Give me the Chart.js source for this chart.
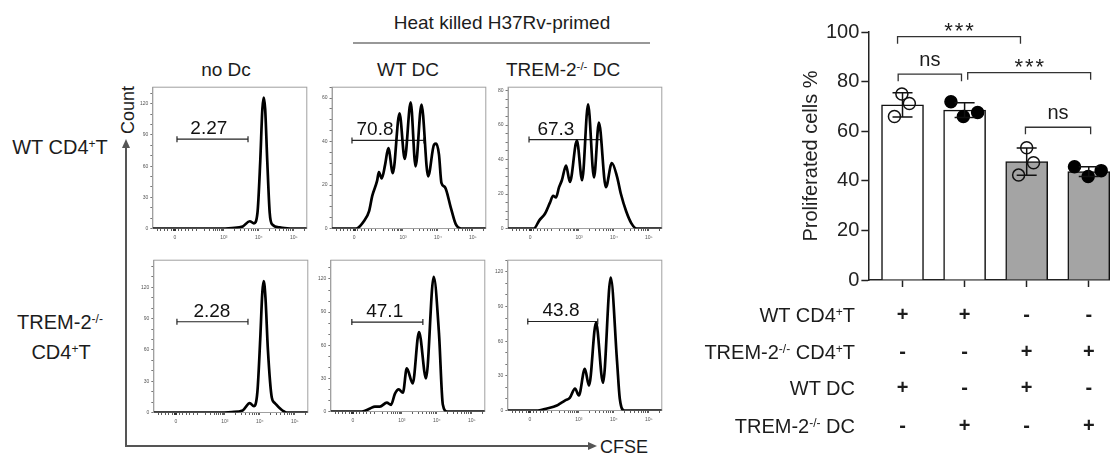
<!DOCTYPE html>
<html>
<head>
<meta charset="utf-8">
<title>CFSE proliferation</title>
<script src="https://cdn.jsdelivr.net/npm/chart.js@4.4.1/dist/chart.umd.min.js"></script>
<style>
  body { margin:0; width:1110px; height:459px; overflow:hidden; background:#fff; position:relative;
         font-family:"Liberation Sans", Arial, sans-serif; color:#1c1c1c; }
  .wrap { position:absolute; left:0; top:0; }
  .t { position:absolute; white-space:nowrap; line-height:1; }
  .c { transform:translate(-50%,-50%); }
  .r { transform:translateY(-50%); }
  sup { font-size:0.6em; position:relative; top:-0.5em; vertical-align:baseline; line-height:0; }
  svg { position:absolute; left:0; top:0; }
</style>
</head>
<body>
<svg width="1110" height="459">
  <path d="M126 446 V147" stroke="#555" stroke-width="2" fill="none"/>
  <path d="M126 139 l-4 9 h8 z" fill="#555"/>
  <path d="M125 446 H589" stroke="#555" stroke-width="2" fill="none"/>
  <path d="M597 446 l-9 -4 v8 z" fill="#555"/>
  <line x1="353" y1="43" x2="650" y2="43" stroke="#333" stroke-width="1.2"/>
</svg>

<div class="t c" style="left:502px;top:22px;font-size:19px">Heat killed H37Rv-primed</div>
<div class="t c" style="left:226px;top:69px;font-size:19px">no Dc</div>
<div class="t c" style="left:408px;top:69px;font-size:19px">WT DC</div>
<div class="t c" style="left:563px;top:69px;font-size:19px">TREM-2<sup>-/-</sup> DC</div>
<div class="t c" style="left:128px;top:110px;font-size:18px;transform:translate(-50%,-50%) rotate(-90deg)">Count</div>
<div class="t" style="left:600px;top:438px;font-size:18px">CFSE</div>
<div class="t c" style="left:60px;top:147px;font-size:20px">WT CD4<sup>+</sup>T</div>
<div class="t c" style="left:60px;top:322px;font-size:20px">TREM-2<sup>-/-</sup></div>
<div class="t c" style="left:61px;top:352px;font-size:20px">CD4<sup>+</sup>T</div>

<div class="wrap"><canvas id="h1" width="200" height="180"></canvas></div>
<div class="wrap"><canvas id="h2" width="200" height="180"></canvas></div>
<div class="wrap"><canvas id="h3" width="200" height="180"></canvas></div>
<div class="wrap"><canvas id="h4" width="200" height="180"></canvas></div>
<div class="wrap"><canvas id="h5" width="200" height="180"></canvas></div>
<div class="wrap"><canvas id="h6" width="200" height="180"></canvas></div>
<div class="wrap"><canvas id="bars" width="320" height="460"></canvas></div>

<div class="t r" style="right:255px;top:315px;font-size:20px">WT CD4<sup>+</sup>T</div>
<div class="t r" style="right:255px;top:352px;font-size:20px">TREM-2<sup>-/-</sup> CD4<sup>+</sup>T</div>
<div class="t r" style="right:255px;top:388px;font-size:20px">WT DC</div>
<div class="t r" style="right:255px;top:426px;font-size:20px">TREM-2<sup>-/-</sup> DC</div>

<script>
// ---- CFSE axis (logicle display units: 0 at "0", one unit per decade above 10^3)
const cfseMajorTicks = [0, 1.4, 2.4, 3.4];
const cfseMajorLabels = ['0', '10³', '10⁴', '10⁵'];
const cfseMinorTicks = [-0.5, -0.4, -0.3, -0.2, -0.1, 0.1, 0.2, 0.3, 0.4, 0.5, 0.62, 0.85, 0.99, 1.09, 1.16,
  1.23, 1.28, 1.32, 1.36, 1.7, 1.88, 2.0, 2.1, 2.18, 2.25, 2.3, 2.35, 2.7, 2.88, 3.0, 3.1, 3.18, 3.25, 3.3, 3.35, 3.7];

// ---- histograms (CFSE position, cell count)
const cfseWtNoDc  = [-0.63, 0, 1.2, 1.63, 1.94, 2.14, 2.26, 2.36, 2.44, 2.5, 2.54, 2.58, 2.64, 2.71, 2.78, 3.0, 3.3, 3.77];
const countWtNoDc = [0, 0, 0, 0.5, 2, 7, 5, 15, 65, 115, 126, 115, 65, 15, 4, 1, 0, 0];

const cfseWtWtDc  = [-0.63, 0.06, 0.29, 0.43, 0.52, 0.66, 0.71, 0.79, 0.89, 0.98, 1.11, 1.3, 1.45, 1.62, 1.76, 1.93, 2.12, 2.29, 2.35, 2.43, 2.5, 2.6, 2.77, 2.91, 3.06, 3.77];
const countWtWtDc = [0, 0, 3.6, 8, 15, 22, 26, 23, 29.5, 37, 25.5, 53, 32, 58, 28.6, 57, 24, 38.6, 39, 34, 21, 19, 9.5, 2, 0, 0];

const cfseWtKoDc  = [-0.63, 0.11, 0.26, 0.43, 0.57, 0.66, 0.74, 0.83, 0.91, 1.03, 1.14, 1.34, 1.49, 1.66, 1.83, 1.97, 2.17, 2.34, 2.49, 2.6, 2.75, 2.9, 3.05, 3.77];
const countWtKoDc = [0, 0, 4.6, 8.7, 15, 19, 18, 24, 28, 36.5, 27, 51, 28, 72, 29.6, 61.5, 24, 38, 30, 20, 10, 3, 0, 0];

const cfseKoNoDc  = [-0.63, 0, 1.2, 1.6, 1.91, 2.11, 2.23, 2.33, 2.41, 2.47, 2.51, 2.56, 2.63, 2.74, 2.83, 2.97, 3.17, 3.77];
const countKoNoDc = [0, 0, 0, 0.5, 2, 9, 6, 20, 70, 115, 126, 110, 60, 14.5, 9, 4, 0, 0];

const cfseKoWtDc  = [-0.63, 0.26, 0.49, 0.63, 0.77, 0.97, 1.09, 1.2, 1.31, 1.43, 1.54, 1.71, 1.89, 2.09, 2.31, 2.46, 2.57, 2.69, 3.77];
const countKoWtDc = [0, 0, 2.7, 4.5, 4.5, 8, 6, 16, 20, 17, 39, 25.5, 72, 30, 122, 71, 6.4, 0, 0];

const cfseKoKoDc  = [-0.63, 0.23, 0.49, 0.77, 0.86, 1.0, 1.14, 1.29, 1.4, 1.57, 1.69, 1.89, 2.09, 2.31, 2.49, 2.57, 2.7, 3.77];
const countKoKoDc = [0, 0, 1.7, 4.3, 6, 8.6, 11, 19, 13, 36, 21.6, 76, 24, 115, 43, 10, 0, 0];

// gates: [from, to, count level, label position, % divided]
const gateWtNoDc = [0.06, 2.09, 86, 0.97, '2.27'];
const gateWtWtDc = [-0.06, 2.0, 40.5, 0.6, '70.8'];
const gateWtKoDc = [-0.03, 2.03, 51.6, 0.74, '67.3'];
const gateKoNoDc = [0.03, 2.06, 87, 1.03, '2.28'];
const gateKoWtDc = [-0.03, 2.0, 81, 0.91, '47.1'];
const gateKoKoDc = [-0.06, 1.94, 77, 0.89, '43.8'];

// ---- bar chart
const groups = [1, 2, 3, 4];
const meanProlif = [70.6, 68.5, 47.7, 43.7];
const sdProlif = [4.9, 3.0, 5.5, 2.0];
const repX1 = [0.87, 0.99, 1.11], repY1 = [65.9, 75.0, 71.2];
const repX2 = [1.78, 1.98, 2.21], repY2 = [71.9, 65.9, 67.5];
const repX3 = [2.87, 3.0, 3.11], repY3 = [42.3, 53.3, 47.3];
const repX4 = [3.77, 3.99, 4.2], repY4 = [45.7, 41.7, 44.1];
// [from, to, level, text]
const sigBrackets = [[0.92, 2.9, 98.1, '***'], [0.93, 1.95, 83, 'ns'], [2.05, 4.03, 83.6, '***'], [2.98, 4.03, 61.6, 'ns']];
const tableSigns = [['+', '+', '-', '-'], ['-', '-', '+', '+'], ['+', '-', '+', '-'], ['-', '+', '-', '+']];

Chart.defaults.font.family = '"Liberation Sans", Arial, sans-serif';
Chart.defaults.color = '#222';

function fitChart(chart, box) {
  const a = chart.chartArea;
  const ml = a.left, mt = a.top, mr = chart.width - a.right, mb = chart.height - a.bottom;
  const w = Math.round(box.w + ml + mr), h = Math.round(box.h + mt + mb);
  const wrap = chart.canvas.parentNode;
  wrap.style.left = (box.x - ml) + 'px';
  wrap.style.top = (box.y - mt) + 'px';
  chart.resize(w, h);
  chart.update();
}

const panelDecor = {
  id: 'panelDecor',
  beforeDatasetsDraw(chart) {
    const a = chart.chartArea, ctx = chart.ctx;
    ctx.save();
    ctx.strokeStyle = '#a0a0a0';
    ctx.lineWidth = 1;
    ctx.strokeRect(a.left, a.top, a.right - a.left, a.bottom - a.top);
    ctx.restore();
  },
  afterDatasetsDraw(chart, args, opts) {
    const g = opts.gate;
    const ctx = chart.ctx;
    ctx.save();
    ctx.font = '19px "Liberation Sans", Arial, sans-serif';
    ctx.fillStyle = '#111';
    ctx.textAlign = 'center';
    ctx.fillText(g[4], chart.scales.x.getPixelForValue(g[3]), chart.scales.y.getPixelForValue(g[2]) - 5);
    ctx.restore();
  }
};

function histChart(id, cfse, count, gate, yMax, yStep, yEvery) {
  return new Chart(document.getElementById(id), {
    type: 'line',
    data: {
      datasets: [{
        data: cfse.map((u, i) => ({ x: u, y: count[i] })),
        borderColor: '#000', borderWidth: 2.7, pointRadius: 0,
        cubicInterpolationMode: 'monotone', fill: false
      }, {
        data: [{ x: gate[0], y: gate[2] }, { x: gate[1], y: gate[2] }],
        borderColor: '#222', borderWidth: 1.2,
        pointStyle: 'line', pointRotation: 90, pointRadius: 3, pointBorderWidth: 1.2, pointBorderColor: '#222'
      }]
    },
    options: {
      responsive: false, maintainAspectRatio: false, animation: false,
      layout: { padding: { top: 4, right: 3, left: 1, bottom: 1 } },
      plugins: { legend: { display: false }, tooltip: { enabled: false }, panelDecor: { gate } },
      scales: {
        x: {
          type: 'linear', min: -0.63, max: 3.77,
          afterBuildTicks: s => { s.ticks = cfseMajorTicks.concat(cfseMinorTicks).sort((a, b) => a - b).map(v => ({ value: v })); },
          ticks: {
            autoSkip: false, maxRotation: 0, font: { size: 5 }, color: '#555', padding: 4,
            callback: v => { const k = cfseMajorTicks.indexOf(v); return k < 0 ? '' : cfseMajorLabels[k]; }
          },
          grid: { drawOnChartArea: false, tickLength: 2.5, tickColor: '#333',
                  tickWidth: c => (c.tick && c.tick.value === 0 ? 3 : 0.8) },
          border: { color: '#555', width: 1 }
        },
        y: {
          min: 0, max: yMax,
          ticks: { stepSize: yStep, includeBounds: false, autoSkip: false, font: { size: 5 }, color: '#555', padding: 2,
                   callback: v => (v % yEvery === 0 ? v : '') },
          grid: { drawOnChartArea: false, tickLength: 2.5, tickColor: '#777' },
          border: { color: '#a0a0a0', width: 1 }
        }
      }
    },
    plugins: [panelDecor]
  });
}

const histPanels = [
  [histChart('h1', cfseWtNoDc, countWtNoDc, gateWtNoDc, 136, 10, 30), { x: 153, y: 87, w: 154, h: 141 }],
  [histChart('h2', cfseWtWtDc, countWtWtDc, gateWtWtDc, 65, 5, 20),   { x: 332, y: 87, w: 154, h: 141 }],
  [histChart('h3', cfseWtKoDc, countWtKoDc, gateWtKoDc, 82, 5, 20),   { x: 508, y: 87, w: 154, h: 141 }],
  [histChart('h4', cfseKoNoDc, countKoNoDc, gateKoNoDc, 146, 10, 30), { x: 154, y: 260, w: 154, h: 152 }],
  [histChart('h5', cfseKoWtDc, countKoWtDc, gateKoWtDc, 137, 10, 30), { x: 331, y: 260, w: 154, h: 151 }],
  [histChart('h6', cfseKoKoDc, countKoKoDc, gateKoKoDc, 130, 10, 30), { x: 508, y: 260, w: 154, h: 150 }]
];
histPanels.forEach(p => fitChart(p[0], p[1]));

const barDecor = {
  id: 'barDecor',
  afterDatasetsDraw(chart) {
    const xs = chart.scales.x, ys = chart.scales.y, ctx = chart.ctx;
    ctx.save();
    ctx.strokeStyle = '#111';
    ctx.lineWidth = 1.5;
    groups.forEach((g, i) => {
      const x = xs.getPixelForValue(g);
      const y1 = ys.getPixelForValue(meanProlif[i] + sdProlif[i]);
      const y2 = ys.getPixelForValue(meanProlif[i] - sdProlif[i]);
      ctx.beginPath();
      ctx.moveTo(x, y1); ctx.lineTo(x, y2);
      ctx.moveTo(x - 10, y1); ctx.lineTo(x + 10, y1);
      ctx.moveTo(x - 10, y2); ctx.lineTo(x + 10, y2);
      ctx.stroke();
    });
    ctx.restore();
  },
  afterDraw(chart, args, opts) {
    const xs = chart.scales.x, ys = chart.scales.y, ctx = chart.ctx, a = chart.chartArea;
    ctx.save();
    ctx.strokeStyle = '#333';
    ctx.lineWidth = 1.3;
    ctx.fillStyle = '#1c1c1c';
    ctx.textAlign = 'center';
    sigBrackets.forEach(b => {
      const x1 = xs.getPixelForValue(b[0]), x2 = xs.getPixelForValue(b[1]), y = ys.getPixelForValue(b[2]);
      ctx.beginPath();
      ctx.moveTo(x1, y + 7); ctx.lineTo(x1, y); ctx.lineTo(x2, y); ctx.lineTo(x2, y + 7);
      ctx.stroke();
      const cx = (x1 + x2) / 2;
      if (b[3] === '***') {
        ctx.font = '22px "Liberation Sans", Arial, sans-serif';
        [-10.5, 0, 10.5].forEach(d => ctx.fillText('*', cx + d, y + 1));
      } else {
        ctx.font = '20px "Liberation Sans", Arial, sans-serif';
        ctx.fillText(b[3], cx, y - 8);
      }
    });
    ctx.font = 'bold 20px "Liberation Sans", Arial, sans-serif';
    ctx.textBaseline = 'middle';
    tableSigns.forEach((row, r) => {
      row.forEach((s, i) => ctx.fillText(s, xs.getPixelForValue(groups[i]), a.bottom + opts.rows[r]));
    });
    ctx.restore();
  }
};

const pts = (xs, ys) => xs.map((x, i) => ({ x, y: ys[i] }));

const barChart = new Chart(document.getElementById('bars'), {
  type: 'bar',
  data: {
    datasets: [{
      type: 'bar',
      data: groups.map((g, i) => ({ x: g, y: meanProlif[i] })),
      backgroundColor: c => (c.dataIndex < 2 ? '#ffffff' : '#a4a4a4'),
      borderColor: '#111', borderWidth: 1.5, barThickness: 42, order: 3
    }, {
      type: 'scatter',
      data: pts(repX1, repY1).concat(pts(repX3, repY3)),
      pointRadius: 6, pointBorderWidth: 1.5, pointBorderColor: '#111', pointBackgroundColor: 'rgba(0,0,0,0)',
      order: 1, clip: false
    }, {
      type: 'scatter',
      data: pts(repX2, repY2).concat(pts(repX4, repY4)),
      pointRadius: 6, pointBorderWidth: 1.5, pointBorderColor: '#000', pointBackgroundColor: '#000',
      order: 1, clip: false
    }]
  },
  options: {
    responsive: false, maintainAspectRatio: false, animation: false,
    layout: { padding: { top: 30, bottom: 175, left: 0, right: 0 } },
    plugins: { legend: { display: false }, tooltip: { enabled: false }, barDecor: { rows: [35, 72, 108, 146] } },
    scales: {
      x: {
        type: 'linear', min: 0.45, max: 4.35, offset: false,
        afterBuildTicks: s => { s.ticks = groups.map(v => ({ value: v })); },
        ticks: { display: false },
        grid: { offset: false, drawOnChartArea: false, tickLength: 7, tickWidth: 1.5, tickColor: '#222' },
        border: { color: '#222', width: 1.5 }
      },
      y: {
        min: 0, max: 100,
        ticks: { stepSize: 20, font: { size: 20 }, color: '#222', padding: 2 },
        grid: { drawOnChartArea: false, tickLength: 7, tickWidth: 1.5, tickColor: '#222' },
        border: { color: '#222', width: 1.5 },
        title: { display: true, text: 'Proliferated cells %', font: { size: 20 }, color: '#222', padding: { top: 0, bottom: 1 } }
      }
    }
  },
  plugins: [barDecor]
});
fitChart(barChart, { x: 868, y: 32, w: 242, h: 248 });
</script>
</body>
</html>
